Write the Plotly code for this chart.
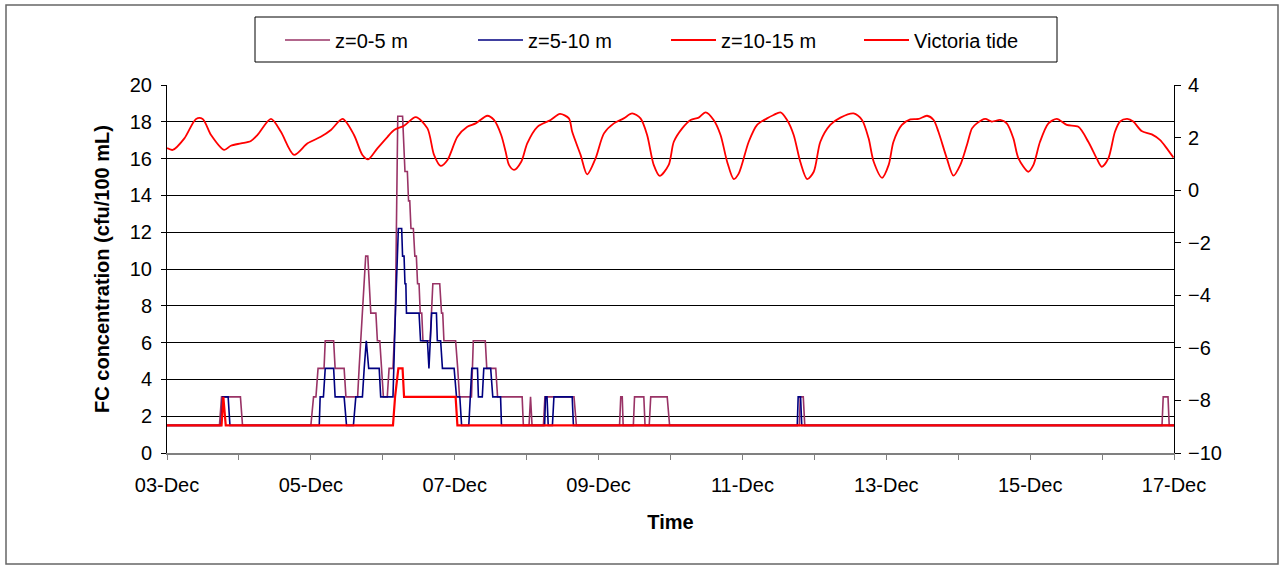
import pandas as pd
import plotly.graph_objects as go

# Time origin of the record; all times below are hours after it
START = pd.Timestamp("2011-12-03 00:00")
END_HOURS = 14 * 24

# Faecal coliform concentration (cfu/100 mL) at breakpoints of each depth band
fc_0_5_hours = [0, 17.5, 18.2, 24.5, 25.2, 48, 48.9, 49.7, 50.4, 52.4, 52.8, 55.6, 56.1, 59.1,
                59.7, 63.6, 64.1, 66.3, 67.0, 68.0, 69.7, 70.2, 71.0, 71.5, 72.2, 73.5, 74.1,
                75.4, 76.2, 77.0, 78.6, 79.4, 80.2, 80.6, 81.0, 81.4, 82.2, 82.7, 83.2, 83.6,
                84.1, 84.5, 85.0, 85.4, 87.8, 88.7, 91.0, 91.6, 92.0, 92.4, 96.3, 97.0, 97.6,
                101.6, 102.2, 106.2, 106.7, 109.7, 110.3, 118.5, 118.9, 120.8, 121.3, 121.8,
                125.6, 126.1, 135.8, 136.6, 151.0, 151.4, 151.9, 152.2, 155.6, 156.0, 159.1,
                159.5, 160.9, 161.4, 166.9, 167.7, 211.0, 211.3, 212.3, 212.8, 332.0, 332.4,
                334.0, 334.4, 336]
fc_0_5_values = [1.5, 1.5, 3.05, 3.05, 1.5, 1.5, 3.05, 3.05, 4.6, 4.6, 6.1, 6.1, 4.6, 4.6,
                 3.05, 3.05, 4.6, 10.7, 10.7, 7.6, 7.6, 6.1, 6.1, 4.6, 3.05, 3.05, 4.6,
                 4.6, 7.6, 18.3, 18.3, 15.3, 15.3, 13.7, 13.7, 12.2, 12.2, 10.7, 10.7, 9.2,
                 9.2, 7.6, 7.6, 6.1, 6.1, 9.2, 9.2, 7.6, 7.6, 6.1, 6.1, 4.6, 3.05,
                 3.05, 6.1, 6.1, 4.6, 4.6, 3.05, 3.05, 1.5, 1.5, 3.05, 1.5,
                 1.5, 3.05, 3.05, 1.5, 1.5, 3.05, 3.05, 1.5, 1.5, 3.05, 3.05,
                 1.5, 1.5, 3.05, 3.05, 1.5, 1.5, 3.05, 3.05, 1.5, 1.5, 3.05,
                 3.05, 1.5, 1.5]

fc_5_10_hours = [0, 18.0, 18.6, 20.4, 21.0, 50.8, 51.1, 52.2, 52.8, 55.6, 56.1, 59.1, 59.9,
                 62.2, 63.0, 65.2, 65.8, 66.5, 67.3, 70.8, 71.3, 75.4, 76.2, 77.2, 78.3, 78.6,
                 79.1, 79.4, 79.7, 79.9, 84.1, 84.6, 86.9, 87.4, 88.3, 89.9, 90.2, 91.3, 91.9,
                 95.8, 96.6, 97.7, 98.3, 100.7, 101.7, 103.6, 103.9, 105.2, 105.7, 108.0,
                 108.7, 111.3, 111.6, 126.0, 126.3, 126.8, 127.2, 128.6, 129.1, 135.2, 135.6,
                 210.3, 210.6, 211.4, 211.8, 336]
fc_5_10_values = [1.5, 1.5, 3.05, 3.05, 1.5, 1.5, 3.05, 3.05, 4.6, 4.6, 3.05, 3.05, 1.5,
                  1.5, 3.05, 3.05, 4.6, 6.1, 4.6, 4.6, 3.05, 3.05, 7.6, 12.2, 12.2, 10.7,
                  10.7, 9.2, 9.2, 7.6, 7.6, 6.1, 6.1, 4.6, 7.6, 7.6, 6.1, 6.1, 4.6,
                  4.6, 3.05, 3.05, 1.5, 1.5, 4.6, 4.6, 3.05, 3.05, 4.6, 4.6,
                  3.05, 3.05, 1.5, 1.5, 3.05, 3.05, 1.5, 1.5, 3.05, 3.05, 1.5,
                  1.5, 3.05, 3.05, 1.5, 1.5]

fc_10_15_hours = [0, 18.2, 18.8, 19.6, 75.4, 76.1, 77.2, 78.6, 79.1, 96.3, 96.9, 336]
fc_10_15_values = [1.5, 1.5, 3.05, 1.5, 1.5, 3.05, 4.6, 4.6, 3.05, 3.05, 1.5, 1.5]

# Victoria tide level (m), turning points and shoulders of the tidal curve
tide_hours = [0, 1.9, 5.8, 9.7, 11.9, 14.7, 19.1, 21.3, 24.7, 28, 30.2, 34.7, 38, 42.4, 46.9,
              51.3, 54.7, 58.6, 62.4, 65.2, 67.1, 70.2, 73.6, 75.8, 79.1, 83, 86.9, 89.1,
              91.3, 93.6, 96.9, 100.2, 103, 106.9, 109.1, 111.5, 113, 114.1, 115.8, 118.2,
              120.2, 123.6, 128, 131.1, 134.1, 135.2, 138, 140.2, 143, 145.8, 149.1, 152.4,
              155.2, 158, 160.2, 162.4, 164.4, 167.4, 169.1, 171.9, 174.7, 177.4, 179.7,
              182.4, 184.7, 186.9, 189.1, 190.8, 194.1, 196.9, 200.2, 202.4, 204.7, 206.9,
              209.1, 211.3, 213.6, 215.8, 218, 221.3, 224.7, 229.1, 231.9, 234.1, 235.8,
              238.6, 240.8, 242.4, 245.2, 248, 250.8, 253.6, 255.8, 257.4, 260.2, 262.4,
              264.7, 266.9, 268.6, 270.2, 273, 275.2, 278, 280.2, 282.4, 284.1, 287.4,
              289.1, 291.3, 294.1, 296.9, 300.2, 304.1, 307.4, 310.2, 311.9, 314.1, 316.3,
              318, 320.4, 322.4, 325.2, 328.6, 331.3, 333.6, 335.8]
tide_levels = [1.6, 1.53, 1.97, 2.71, 2.71, 2.10, 1.53, 1.69, 1.78, 1.87, 2.10, 2.71, 2.22, 1.34,
               1.78, 2.03, 2.29, 2.71, 2.10, 1.34, 1.17, 1.59, 2.03, 2.29, 2.45, 2.78, 2.35,
               1.34, 0.92, 1.15, 2.03, 2.41, 2.54, 2.83, 2.67, 2.10, 1.46, 0.96, 0.77, 1.08,
               1.78, 2.41, 2.67, 2.90, 2.73, 2.22, 1.34, 0.60, 1.21, 2.16, 2.54, 2.73,
               2.92, 2.73, 2.10, 0.96, 0.54, 0.96, 1.84, 2.35, 2.67, 2.76, 2.96,
               2.67, 2.10, 1.08, 0.42, 0.64, 1.84, 2.48, 2.73, 2.86, 2.96, 2.67,
               2.10, 1.08, 0.42, 0.70, 1.84, 2.48, 2.76, 2.92, 2.67, 1.97, 1.08,
               0.47, 0.96, 1.84, 2.48, 2.69, 2.71, 2.83, 2.67, 2.22, 1.21, 0.55,
               0.96, 1.72, 2.35, 2.54, 2.71, 2.61, 2.67, 2.54, 1.97, 1.21, 0.70,
               0.96, 1.84, 2.54, 2.71, 2.48, 2.41, 1.84, 1.21, 0.89, 1.21, 2.22,
               2.61, 2.71, 2.61, 2.25, 2.12, 1.91, 1.59, 1.24]

series_names = ["z=0-5 m", "z=5-10 m", "z=10-15 m", "Victoria tide"]
series_colors = ["#993366", "#000080", "#FF0000", "#FF0000"]
series_widths = [1.6, 1.6, 2.2, 1.8]

left_ticks = list(range(0, 21, 2))
right_ticks = list(range(-10, 5, 2))


def to_time(hours):
    return START + pd.to_timedelta(hours, unit="h")


FONT = "Liberation Sans, Arial, sans-serif"
FS = 20

fig = go.Figure()
for hrs, vals, name, color, width in zip(
        [fc_0_5_hours, fc_5_10_hours, fc_10_15_hours],
        [fc_0_5_values, fc_5_10_values, fc_10_15_values],
        series_names[:3], series_colors[:3], series_widths[:3]):
    fig.add_trace(go.Scatter(x=to_time(hrs), y=vals, name=name, mode="lines",
                             line=dict(color=color, width=width), yaxis="y"))

fig.add_trace(go.Scatter(x=to_time(tide_hours), y=tide_levels, name=series_names[3],
                         mode="lines", yaxis="y2",
                         line=dict(color=series_colors[3], width=series_widths[3],
                                   shape="spline", smoothing=0.8)))

# Plot area spans x 167..1174 px and y 85..453 px of the page
L, R, T, B = 167, 1174, 85, 453
W, H = 1283, 566


def px(xp):
    return (xp - L) / (R - L)


def py(yp):
    return (B - yp) / (B - T)


fig.update_layout(
    width=W, height=H, autosize=False,
    margin=dict(l=L, r=W - R, t=T, b=H - B, pad=0),
    paper_bgcolor="white", plot_bgcolor="white",
    font=dict(family=FONT, size=FS, color="black"),
    showlegend=True,
    legend=dict(orientation="h", x=px(280), y=py(40), xanchor="left", yanchor="middle",
                borderwidth=0, bgcolor="rgba(0,0,0,0)",
                font=dict(family=FONT, size=FS, color="black"), itemwidth=45,
                entrywidth=133, entrywidthmode="pixels",
                traceorder="normal"),
    xaxis=dict(type="date", range=[START, to_time(END_HOURS)],
               tickformat="%d-%b", dtick=2 * 86400000, tick0=START,
               ticks="outside", ticklen=5, tickcolor="#808080",
               showline=True, linecolor="#808080", linewidth=2,
               showgrid=False, zeroline=False, ticklabelstandoff=8,
               minor=dict(dtick=86400000, ticks="outside", ticklen=5,
                          tickcolor="#808080", showgrid=False),
               tickfont=dict(size=FS),
               title=dict(text="<b>Time</b>", font=dict(size=FS), standoff=20)),
    yaxis=dict(range=[0, 20], tickvals=left_ticks, ticks="outside", ticklen=5,
               tickcolor="black", showline=True, linecolor="black", linewidth=1,
               showgrid=True, gridcolor="black", gridwidth=1, zeroline=False,
               ticklabelstandoff=5, tickfont=dict(size=FS),
               title=dict(text="<b>FC concentration (cfu/100 mL)</b>",
                          font=dict(size=FS), standoff=14)),
    yaxis2=dict(range=[-10, 4], tickvals=right_ticks, overlaying="y", side="right",
                ticks="outside", ticklen=6, tickcolor="black",
                showline=True, linecolor="black", linewidth=1, ticklabelstandoff=3,
                showgrid=False, zeroline=False, tickfont=dict(size=FS)),
    shapes=[
        # outer chart border
        dict(type="rect", xref="paper", yref="paper",
             x0=px(6), x1=px(1278), y0=py(564), y1=py(5),
             line=dict(color="#666666", width=1.5), layer="below"),
        # legend frame
        dict(type="rect", xref="paper", yref="paper",
             x0=px(255), x1=px(1057), y0=py(62), y1=py(17),
             line=dict(color="black", width=1), fillcolor="white", layer="below"),
    ],
)

fig.write_html("out.html")
